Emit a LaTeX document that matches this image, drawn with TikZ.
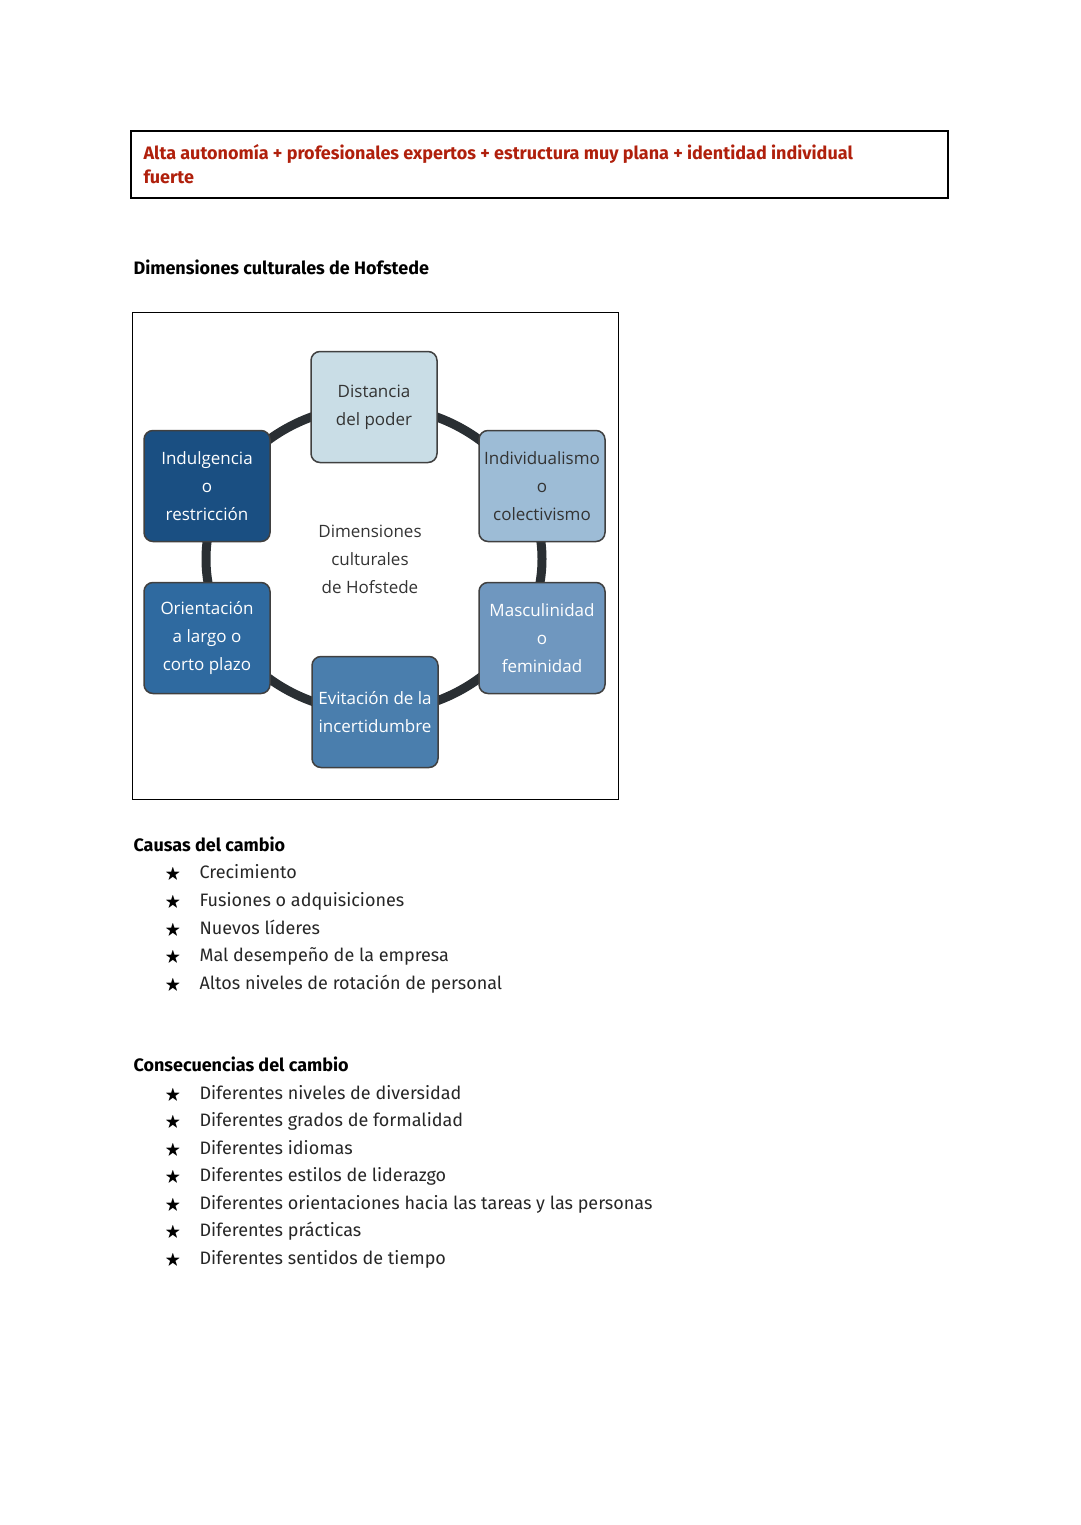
\documentclass[tikz,border=0pt]{standalone}
\usepackage{fontspec}
\setmainfont{Fira Sans}
\newfontfamily\diag{Open Sans}
\usepackage{amssymb}
\begin{document}
\begin{tikzpicture}[x=1pt,y=-1pt,
  box/.style={draw=black!75,line width=1.5pt,rounded corners=9pt,minimum width=126pt,minimum height=111pt,align=center,font=\diag\fontsize{17}{28}\selectfont,inner sep=1pt},
  hd/.style={anchor=base west,font=\bfseries\fontsize{18}{22}\selectfont},
  it/.style={anchor=base west,font=\fontsize{18}{22}\selectfont,text=black!85},
  st/.style={anchor=base,font=\fontsize{16}{18}\selectfont}]
\definecolor{red1}{HTML}{B0200C}
\definecolor{ring}{HTML}{2A2F33}
\definecolor{c1}{HTML}{C9DDE6}\definecolor{c2}{HTML}{9DBCD6}\definecolor{c3}{HTML}{6F97BF}
\definecolor{c4}{HTML}{4A7EAD}\definecolor{c5}{HTML}{2F6AA0}\definecolor{c6}{HTML}{1A4F82}
\useasboundingbox (0,0) rectangle (1080,1525);
\draw[line width=1.5pt] (131,131) rectangle (948,198);
\node[hd,text=red1] (h1) at (140,160) {Alta autonomía + profesionales expertos + estructura muy plana + identidad individual};
\node[hd,text=red1] (h2) at (140,184) {fuerte};
\node[hd] (t1) at (130,274) {Dimensiones culturales de Hofstede};
\draw[line width=1pt] (132,312) rectangle (618,799);
\coordinate (c) at (374,559);
\draw[ring,line width=9pt] (c) ellipse [x radius=168, y radius=153];
\node[box,fill=c1,text=black!80] (b1) at (374,407) {Distancia\\del poder};
\node[box,fill=c2,text=black!80] (b2) at (542,486) {Individualismo\\o\\colectivismo};
\node[box,fill=c3,text=white] (b3) at (542,638) {Masculinidad\\o\\feminidad};
\node[box,fill=c4,text=white] (b4) at (375,712) {Evitación de la\\incertidumbre};
\node[box,fill=c5,text=white] (b5) at (207,638) {Orientación\\a largo o\\corto plazo};
\node[box,fill=c6,text=white] (b6) at (207,486) {Indulgencia\\o\\restricción};
\node[align=center,font=\diag\fontsize{17}{28}\selectfont,text=black!80] (ctr) at (370,559) {Dimensiones\\culturales\\de Hofstede};
\node[hd] (t2) at (130,851) {Causas del cambio};
\foreach \y/\t [count=\i] in {878/Crecimiento,906/Fusiones o adquisiciones,934/Nuevos líderes,961/Mal desempeño de la empresa,989/Altos niveles de rotación de personal}{
  \node[st] (sa\i) at (173,\y) {$\bigstar$};
  \node[it] (a\i) at (196,\y) {\t};}
\node[hd] (t3) at (130,1071) {Consecuencias del cambio};
\foreach \y/\t [count=\i] in {1099/Diferentes niveles de diversidad,1126/Diferentes grados de formalidad,1154/Diferentes idiomas,1181/Diferentes estilos de liderazgo,1209/Diferentes orientaciones hacia las tareas y las personas,1236/Diferentes prácticas,1264/Diferentes sentidos de tiempo}{
  \node[st] (sb\i) at (173,\y) {$\bigstar$};
  \node[it] (b\i x) at (196,\y) {\t};}
\end{tikzpicture}
\end{document}
